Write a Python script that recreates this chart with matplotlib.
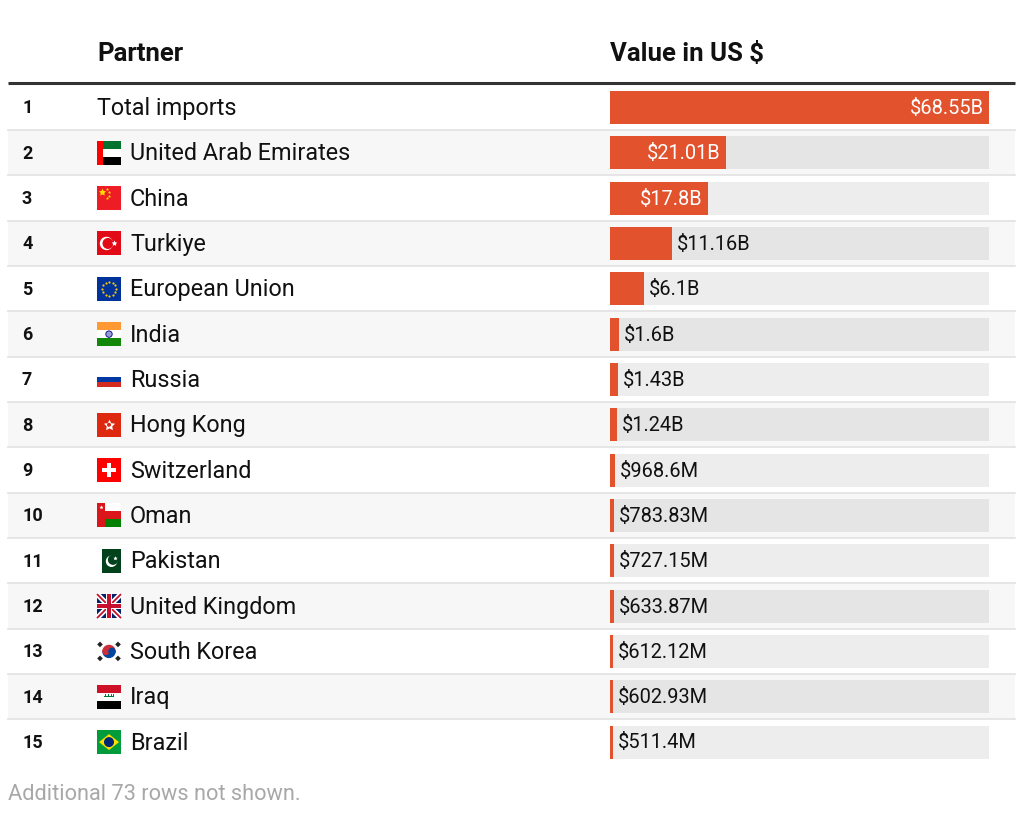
import matplotlib
matplotlib.use('Agg')
import matplotlib.pyplot as plt
from matplotlib.patches import Rectangle, Circle, Polygon, Wedge
import numpy as np

plt.rcParams['font.family'] = ['Roboto', 'DejaVu Sans']

# ---------------- data ----------------
ranks = list(range(1, 16))
partners = ["Total imports", "United Arab Emirates", "China", "Turkiye",
            "European Union", "India", "Russia", "Hong Kong", "Switzerland",
            "Oman", "Pakistan", "United Kingdom", "South Korea", "Iraq", "Brazil"]
values = [68.55e9, 21.01e9, 17.8e9, 11.16e9, 6.1e9, 1.6e9, 1.43e9, 1.24e9,
          968.6e6, 783.83e6, 727.15e6, 633.87e6, 612.12e6, 602.93e6, 511.4e6]
value_labels = ["$68.55B", "$21.01B", "$17.8B", "$11.16B", "$6.1B", "$1.6B",
                "$1.43B", "$1.24B", "$968.6M", "$783.83M", "$727.15M",
                "$633.87M", "$612.12M", "$602.93M", "$511.4M"]
flag_codes = [None, "ae", "cn", "tr", "eu", "in", "ru", "hk", "ch", "om",
              "pk", "gb", "kr", "iq", "br"]
header_partner = "Partner"
header_value = "Value in US $"
footer = "Additional 73 rows not shown."

# ---------------- layout ----------------
W, H = 1024, 814
fig = plt.figure(figsize=(W / 100, H / 100), dpi=100)
ax = fig.add_axes([0, 0, 1, 1])
ax.set_xlim(0, W)
ax.set_ylim(H, 0)
ax.axis('off')

n = len(partners)
row_top0 = 84.8
row_h = 45.33
left, right = 8, 1015
bar_x0, bar_x1 = 610, 989
bar_color = '#E1522D'


def yc(i):
    return row_top0 + (i + 0.5) * row_h


# row backgrounds and separators
for i in range(n):
    top = row_top0 + i * row_h
    if i % 2 == 1:
        ax.add_patch(Rectangle((left, top), right - left, row_h,
                               facecolor='#f7f7f7', edgecolor='none', zorder=0))
    if i > 0:
        ax.plot([left, right], [top, top], color='#e4e4e4', lw=1.3, zorder=1)

ax.plot([left, right], [83, 83], color='#333333', lw=2.2, zorder=2,
        solid_capstyle='butt')

# headers
ax.text(97, 54, header_partner, fontsize=18.5, fontweight='bold',
        ha='left', va='center', color='#111111')
ax.text(610, 54, header_value, fontsize=18.5, fontweight='bold',
        ha='left', va='center', color='#111111')
ax.text(8, 794, footer, fontsize=15.7, ha='left', va='center', color='#a8a8a8')


# ---------------- flags ----------------
def rect(x, y, w, h, c, z=3):
    ax.add_patch(Rectangle((x, y), w, h, facecolor=c, edgecolor='none', zorder=z))


def star(x, y, s, c, z=5):
    ax.scatter([x], [y], s=s, marker=(5, 1, 0), color=c, linewidths=0, zorder=z)


def draw_flag(code, x0, ycen):
    w, h = 24, 24
    y0 = ycen - h / 2
    if code == 'ae':
        rect(x0 + 6, y0, 18, h / 3, '#00732f')
        rect(x0 + 6, y0 + h / 3, 18, h / 3, '#ffffff')
        rect(x0 + 6, y0 + 2 * h / 3, 18, h / 3, '#000000')
        rect(x0, y0, 6, h, '#ff0000')
    elif code == 'cn':
        rect(x0, y0, w, h, '#ee1c25')
        star(x0 + 5, y0 + 6, 30, '#ffde00')
        for dx, dy in [(10, 3), (12, 6), (12, 9.5), (10, 12)]:
            star(x0 + dx, y0 + dy, 5, '#ffde00')
    elif code == 'tr':
        rect(x0, y0, w, h, '#e30a17')
        ax.add_patch(Circle((x0 + 9.5, ycen), 6, color='white', zorder=4))
        ax.add_patch(Circle((x0 + 11, ycen), 4.8, color='#e30a17', zorder=4))
        star(x0 + 16.5, ycen, 18, 'white')
    elif code == 'eu':
        rect(x0, y0, w, h, '#003399')
        ang = np.linspace(0, 2 * np.pi, 13)[:-1]
        ax.scatter(x0 + 12 + 7 * np.cos(ang), ycen + 7 * np.sin(ang), s=2.5,
                   color='#ffcc00', linewidths=0, zorder=5)
    elif code == 'in':
        rect(x0, y0, w, h / 3, '#ff9933')
        rect(x0, y0 + h / 3, w, h / 3, '#ffffff')
        rect(x0, y0 + 2 * h / 3, w, h / 3, '#138808')
        ax.add_patch(Circle((x0 + 12, ycen), 3.2, facecolor='#9a9ad6',
                            edgecolor='#000080', lw=0.6, zorder=4))
    elif code == 'ru':
        hh = 16
        yy = ycen - hh / 2
        rect(x0, yy, w, hh / 3, '#ffffff')
        rect(x0, yy + hh / 3, w, hh / 3, '#0039a6')
        rect(x0, yy + 2 * hh / 3, w, hh / 3, '#d52b1e')
    elif code == 'hk':
        rect(x0, y0, w, h, '#de2910')
        star(x0 + 12, ycen, 70, 'white')
        ax.add_patch(Circle((x0 + 12, ycen), 1.3, color='#de2910', zorder=6))
    elif code == 'ch':
        rect(x0, y0, w, h, '#ff0000')
        rect(x0 + 10, y0 + 5, 4, 14, 'white', 4)
        rect(x0 + 5, y0 + 10, 14, 4, 'white', 4)
    elif code == 'om':
        rect(x0, y0, w, h / 3, '#ffffff')
        rect(x0, y0 + h / 3, w, h / 3, '#db161b')
        rect(x0, y0 + 2 * h / 3, w, h / 3, '#008000')
        rect(x0, y0, 8, h, '#db161b', 4)
        star(x0 + 4, y0 + 4, 8, 'white')
    elif code == 'pk':
        rect(x0 + 5, y0, 19, h, '#01411c')
        ax.add_patch(Circle((x0 + 14.5, ycen + 0.5), 5.0, color='white', zorder=4))
        ax.add_patch(Circle((x0 + 16.0, ycen - 1.0), 4.4, color='#01411c', zorder=4))
        star(x0 + 17.5, ycen - 2.5, 10, 'white')
    elif code == 'gb':
        rect(x0, y0, w, h, '#012169')
        kw = dict(solid_capstyle='butt', zorder=4)
        ax.plot([x0, x0 + w], [y0, y0 + h], color='white', lw=3.8, **kw)
        ax.plot([x0, x0 + w], [y0 + h, y0], color='white', lw=3.8, **kw)
        ax.plot([x0, x0 + w], [y0, y0 + h], color='#c8102e', lw=1.3, **kw)
        ax.plot([x0, x0 + w], [y0 + h, y0], color='#c8102e', lw=1.3, **kw)
        rect(x0 + 9, y0, 6, h, 'white', 5)
        rect(x0, y0 + 9, w, 6, 'white', 5)
        rect(x0 + 10.3, y0, 3.4, h, '#c8102e', 6)
        rect(x0, y0 + 10.3, w, 3.4, '#c8102e', 6)
    elif code == 'kr':
        rect(x0, y0, w, h, '#ffffff')
        c = (x0 + 12, ycen)
        ax.add_patch(Wedge(c, 6, 180, 360, color='#cd2e3a', zorder=4))
        ax.add_patch(Wedge(c, 6, 0, 180, color='#0047a0', zorder=4))
        ax.add_patch(Circle((x0 + 9, ycen), 3, color='#cd2e3a', zorder=5))
        ax.add_patch(Circle((x0 + 15, ycen), 3, color='#0047a0', zorder=5))
        for dx, dy in [(-9, -7), (9, -7), (-9, 7), (9, 7)]:
            ax.add_patch(Rectangle((x0 + 12 + dx - 2, ycen + dy - 2), 4, 4,
                                   angle=45 if dx * dy > 0 else -45,
                                   rotation_point='center',
                                   facecolor='#222222', edgecolor='none', zorder=4))
    elif code == 'iq':
        rect(x0, y0, w, h / 3, '#ce1126')
        rect(x0, y0 + h / 3, w, h / 3, '#ffffff')
        rect(x0, y0 + 2 * h / 3, w, h / 3, '#000000')
        rect(x0 + 7, y0 + 11, 10, 1.6, '#007a3d', 4)
        for dx in (8, 11, 14, 16):
            rect(x0 + dx, y0 + 9, 0.9, 2.5, '#007a3d', 4)
    elif code == 'br':
        rect(x0, y0, w, h, '#009c3b')
        ax.add_patch(Polygon([(x0 + 2, ycen), (x0 + 12, y0 + 4), (x0 + 22, ycen),
                              (x0 + 12, y0 + h - 4)], closed=True,
                             facecolor='#ffdf00', edgecolor='none', zorder=4))
        ax.add_patch(Circle((x0 + 12, ycen), 4.3, color='#002776', zorder=5))


# ---------------- row texts ----------------
for i in range(n):
    y = yc(i)
    ax.text(22, y + 1, str(ranks[i]), fontsize=13, fontweight='bold',
            ha='left', va='center', color='#111111')
    if flag_codes[i] is None:
        ax.text(97, y + 1, partners[i], fontsize=16.8, ha='left', va='center',
                color='#111111')
    else:
        draw_flag(flag_codes[i], 97, y)
        ax.text(130, y + 1, partners[i], fontsize=16.8, ha='left', va='center',
                color='#111111')

# ---------------- bars ----------------
top_px = row_top0
bot_px = row_top0 + n * row_h
bax = fig.add_axes([bar_x0 / W, (H - bot_px) / H, (bar_x1 - bar_x0) / W,
                    (bot_px - top_px) / H])
bax.patch.set_alpha(0)
bax.axis('off')
vmax = max(values)
bax.set_xlim(0, vmax)
bax.set_ylim(n - 0.5, -0.5)
ypos = np.arange(n)
bax.barh(ypos, [vmax] * n, height=0.73, color=(0, 0, 0, 0.07), zorder=1)
bax.barh(ypos, values, height=0.73, color=bar_color, zorder=2)

fig.canvas.draw()
renderer = fig.canvas.get_renderer()
px_per_val = (bar_x1 - bar_x0) / vmax
pad_val = 5.5 / px_per_val
for i in range(n):
    t = bax.text(values[i] - pad_val, ypos[i] + 0.02, value_labels[i], fontsize=14.4,
                 ha='right', va='center', color='white', zorder=3)
    tw = t.get_window_extent(renderer).width
    if tw + 11 > values[i] * px_per_val:
        t.set_ha('left')
        t.set_x(values[i] + pad_val * 0.9)
        t.set_color('#111111')

fig.savefig('out.png', dpi=100)
